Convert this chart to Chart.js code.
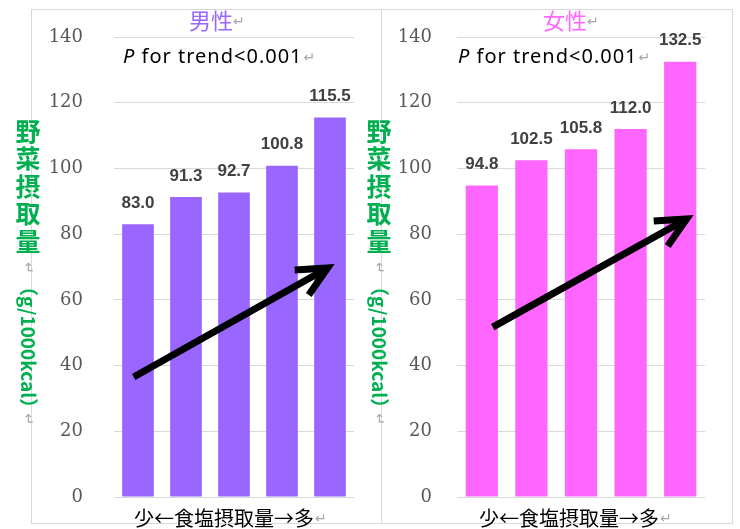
<!DOCTYPE html>
<html>
<head>
<meta charset="utf-8">
<script src="https://cdn.jsdelivr.net/npm/chart.js@4"></script>
<style>
body { margin: 0; background: #fff; }
#frame { position: absolute; left: 31px; top: 9px; width: 700px; height: 513px; border: 1px solid #d9d9d9; }
#divider { position: absolute; left: 381px; top: 9px; width: 1px; height: 514px; background: #d9d9d9; }
canvas { position: absolute; left: 0; top: 0; }
</style>
</head>
<body>
<div id="frame"></div>
<div id="divider"></div>
<canvas id="men-chart" width="740" height="529"></canvas>
<canvas id="women-chart" width="740" height="529"></canvas>
<script>
// Data
const quintiles = ['1', '2', '3', '4', '5'];
const menValues = [83.0, 91.3, 92.7, 100.8, 115.5];
const womenValues = [94.8, 102.5, 105.8, 112.0, 132.5];
const yTicks = [0, 20, 40, 60, 80, 100, 120, 140];
// trend arrows in data units: [category index, value]
const menArrow = [[-0.09, 36.5], [3.95, 69.7]];
const womenArrow = [[0.22, 51.7], [4.13, 84.6]];

const yTitleChars = ['野', '菜', '摂', '取', '量'];
const yTitleUnit = '（g/1000kcal）';
const xTitle = '少←食塩摂取量→多';
const trendText = ' for trend<0.001';

const RETURN_MARK = '↵';

function drawReturn(ctx, x, y) {
    ctx.save();
    ctx.letterSpacing = '0px';
    ctx.font = '14px "DejaVu Sans"';
    ctx.fillStyle = '#a6a6a6';
    ctx.textAlign = 'left';
    ctx.textBaseline = 'middle';
    ctx.fillText(RETURN_MARK, x, y);
    ctx.restore();
}

// texts, arrow and value labels drawn over each panel
function panelOverlay(o) {
    return {
        id: 'panelOverlay',
        afterDatasetsDraw: (chart) => {
            const ctx = chart.ctx;
            const meta = chart.getDatasetMeta(0);
            const values = chart.data.datasets[0].data;
            ctx.save();

            // value labels
            ctx.font = 'bold 17px "Liberation Sans", Arial';
            ctx.fillStyle = '#404040';
            ctx.textAlign = 'center';
            ctx.textBaseline = 'middle';
            meta.data.forEach((bar, i) => {
                ctx.fillText(values[i].toFixed(1), bar.x, bar.y - 21);
            });

            // arrow
            const xs = chart.scales.x;
            const ys = chart.scales.y;
            const x0 = xs.getPixelForValue(o.arrow[0][0]);
            const y0 = ys.getPixelForValue(o.arrow[0][1]);
            const x1 = xs.getPixelForValue(o.arrow[1][0]);
            const y1 = ys.getPixelForValue(o.arrow[1][1]);
            const ang = Math.atan2(y1 - y0, x1 - x0);
            ctx.strokeStyle = '#000';
            ctx.lineWidth = 7;
            ctx.lineCap = 'butt';
            ctx.lineJoin = 'miter';
            ctx.beginPath();
            ctx.moveTo(x0, y0);
            ctx.lineTo(x1 - 3 * Math.cos(ang), y1 - 3 * Math.sin(ang));
            ctx.stroke();
            ctx.beginPath();
            ctx.moveTo(x1 - 33 * Math.cos(ang - 0.45), y1 - 33 * Math.sin(ang - 0.45));
            ctx.lineTo(x1, y1);
            ctx.lineTo(x1 - 33 * Math.cos(ang + 0.45), y1 - 33 * Math.sin(ang + 0.45));
            ctx.stroke();

            // title
            ctx.font = '22px "Noto Sans CJK JP"';
            ctx.fillStyle = o.color;
            ctx.textAlign = 'center';
            ctx.fillText(o.title, o.titleX, 21);
            drawReturn(ctx, o.titleX + 22, 22);

            // P for trend
            ctx.fillStyle = '#000';
            ctx.textAlign = 'left';
            ctx.letterSpacing = '1px';
            ctx.font = 'italic 20px "Noto Sans"';
            ctx.fillText('P', o.pX, 57);
            const pw = ctx.measureText('P').width;
            ctx.font = '20px "Noto Sans"';
            ctx.fillText(trendText, o.pX + pw, 57);
            const tw = ctx.measureText(trendText).width;
            ctx.letterSpacing = '0px';
            drawReturn(ctx, o.pX + pw + tw + 1, 58);

            // x title
            ctx.font = '20px "Noto Sans CJK JP"';
            ctx.textAlign = 'center';
            ctx.fillText(xTitle, o.xTitleX, 518);
            const xw = ctx.measureText(xTitle).width;
            drawReturn(ctx, o.xTitleX + xw / 2 + 1, 519);

            // y title, vertical
            ctx.fillStyle = '#00b050';
            ctx.font = 'bold 25px "Noto Sans CJK JP"';
            yTitleChars.forEach((c, i) => {
                ctx.fillText(c, o.yTitleX, 131 + i * 27.5);
            });
            ctx.save();
            ctx.translate(o.yTitleX, 268);
            ctx.rotate(Math.PI / 2);
            drawReturn(ctx, -6, 0);
            ctx.restore();
            ctx.save();
            ctx.translate(o.yTitleX, 277);
            ctx.rotate(Math.PI / 2);
            ctx.font = 'bold 19px "Noto Sans CJK JP"';
            ctx.fillStyle = '#00b050';
            ctx.textAlign = 'left';
            ctx.fillText(yTitleUnit, 0, 0);
            const uw = ctx.measureText(yTitleUnit).width;
            drawReturn(ctx, uw - 4, 0);
            ctx.restore();

            ctx.restore();
        }
    };
}

// tick gap is done with an invisible tick mark, so ticks.padding
// does not push the plot area down
function panelOptions(axisWidth, tickGap, rightPad) {
    return {
        responsive: false,
        animation: false,
        layout: {
            padding: { left: 0, right: rightPad, top: 37, bottom: 32 }
        },
        scales: {
            x: {
                display: false
            },
            y: {
                min: 0,
                max: 140,
                afterBuildTicks: (scale) => {
                    scale.ticks = yTicks.map((v) => ({ value: v }));
                },
                afterFit: (scale) => {
                    scale.width = axisWidth;
                },
                border: { display: false },
                grid: {
                    color: '#d9d9d9',
                    drawTicks: true,
                    tickLength: tickGap,
                    tickColor: 'rgba(0,0,0,0)'
                },
                ticks: {
                    padding: 0,
                    color: '#595959',
                    font: { family: '"DejaVu Serif"', size: 18 }
                }
            }
        },
        plugins: {
            legend: { display: false },
            tooltip: { enabled: false }
        }
    };
}

// 男性
const menChart = document.querySelector('#men-chart');
new Chart(menChart, {
    type: 'bar',
    data: {
        labels: quintiles,
        datasets: [{
            label: '男性',
            data: menValues,
            backgroundColor: 'rgb(153,102,255)',
            categoryPercentage: 1,
            barPercentage: 0.66
        }]
    },
    options: panelOptions(114, 31, 386),
    plugins: [panelOverlay({
        title: '男性',
        color: 'rgb(153,102,255)',
        titleX: 211,
        pX: 123,
        xTitleX: 224,
        yTitleX: 28,
        arrow: menArrow
    })]
});

// 女性
const womenChart = document.querySelector('#women-chart');
new Chart(womenChart, {
    type: 'bar',
    data: {
        labels: quintiles,
        datasets: [{
            label: '女性',
            data: womenValues,
            backgroundColor: 'rgb(255,102,255)',
            categoryPercentage: 1,
            barPercentage: 0.65
        }]
    },
    options: panelOptions(457, 25, 35),
    plugins: [panelOverlay({
        title: '女性',
        color: 'rgb(255,102,255)',
        titleX: 565,
        pX: 458,
        xTitleX: 569,
        yTitleX: 379,
        arrow: womenArrow
    })]
});
</script>
</body>
</html>
